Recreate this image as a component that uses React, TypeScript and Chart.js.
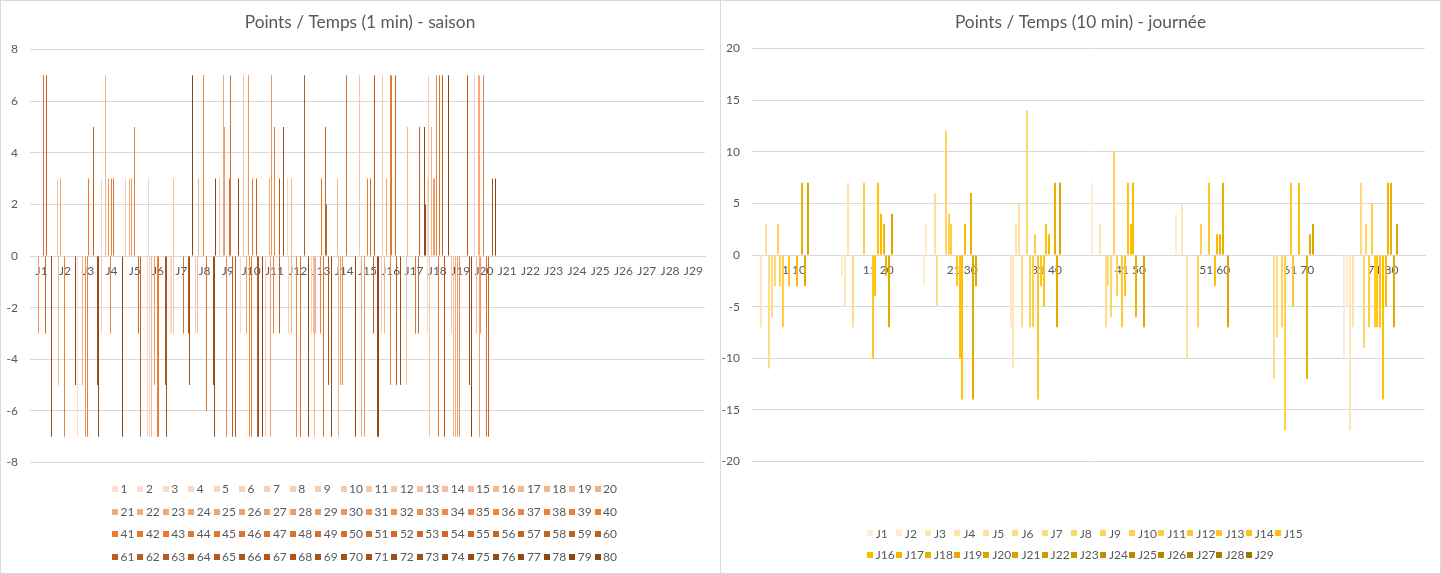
import React, { useEffect, useRef } from 'react';
import { Chart, registerables } from 'chart.js';

Chart.register(...registerables);

const FONT = 'Lato, "Noto Sans", sans-serif';
const TEXT = '#595959';
const GRID = '#D9D9D9';

// ---------- Left chart: Points / Temps (1 min) - saison ----------
const saisonJours = ['J1','J2','J3','J4','J5','J6','J7','J8','J9','J10','J11','J12','J13','J14','J15','J16','J17','J18','J19','J20','J21','J22','J23','J24','J25','J26','J27','J28','J29'];
const saisonMinutes = ['1','2','3','4','5','6','7','8','9','10','11','12','13','14','15','16','17','18','19','20','21','22','23','24','25','26','27','28','29','30','31','32','33','34','35','36','37','38','39','40','41','42','43','44','45','46','47','48','49','50','51','52','53','54','55','56','57','58','59','60','61','62','63','64','65','66','67','68','69','70','71','72','73','74','75','76','77','78','79','80'];

// [minute, points] for each day (minutes without points are empty)
const saisonJ1: [number, number][] = [[29,-3],[47,7],[54,-3],[57,7],[75,-7],[76,-3]];
const saisonJ2: [number, number][] = [[14,3],[18,-5],[25,3],[39,-7],[77,-5]];
const saisonJ3: [number, number][] = [[3,-7],[20,-5],[31,-7],[38,-7],[40,3],[59,5],[72,-5],[73,-5],[76,-7]];
const saisonJ4: [number, number][] = [[5,3],[6,-3],[19,7],[31,3],[37,-3],[40,3],[47,3],[79,-7]];
const saisonJ5: [number, number][] = [[8,3],[22,3],[29,3],[39,5],[53,-3],[60,-7]];
const saisonJ6: [number, number][] = [[4,-7],[7,3],[9,-7],[17,-7],[28,-5],[39,-7],[43,-7],[67,-5],[70,-7]];
const saisonJ7: [number, number][] = [[2,-3],[5,-3],[12,-3],[13,3],[48,-3],[65,-3],[70,-5],[79,7]];
const saisonJ8: [number, number][] = [[9,-3],[15,-3],[19,3],[36,7],[37,7],[47,-6],[72,-5],[74,-7],[78,3]];
const saisonJ9: [number, number][] = [[10,3],[25,7],[28,5],[35,-7],[48,3],[49,7],[58,-7],[67,-7],[77,3]];
const saisonJ10: [number, number][] = [[3,-3],[13,7],[25,-3],[30,7],[34,-7],[41,-7],[45,3],[59,3],[62,-3],[64,-7],[68,-7],[80,-7]];
const saisonJ11: [number, number][] = [[10,-7],[23,3],[26,-7],[30,7],[39,-3],[40,5],[57,-3],[60,3],[72,5]];
const saisonJ12: [number, number][] = [[6,3],[8,-3],[18,3],[19,-3],[36,-7],[38,-7],[50,-7],[64,7],[78,-7]];
const saisonJ13: [number, number][] = [[7,-3],[14,-3],[17,-7],[21,-3],[39,-3],[42,3],[49,-7],[56,5],[59,2],[66,-5],[77,-7]];
const saisonJ14: [number, number][] = [[16,3],[20,-7],[21,-5],[28,-5],[35,-5],[48,7],[79,-7]];
const saisonJ15: [number, number][] = [[12,7],[21,-7],[29,-7],[40,3],[50,3],[60,-3],[64,7],[75,-7],[78,-7]];
const saisonJ16: [number, number][] = [[7,-3],[11,7],[18,-3],[25,3],[39,-5],[40,7],[44,7],[56,7],[60,-5],[74,-5]];
const saisonJ17: [number, number][] = [[13,-5],[17,5],[18,3],[45,-3],[46,-3],[55,-3],[59,5],[76,5],[79,2]];
const saisonJ18: [number, number][] = [[5,3],[6,-3],[9,7],[12,-7],[19,5],[26,3],[29,3],[37,7],[44,-7],[47,7],[58,7],[65,-7],[67,-5],[80,7]];
const saisonJ19: [number, number][] = [[10,-3],[15,-7],[22,-7],[28,-7],[35,-7],[64,7],[70,-5],[78,-7]];
const saisonJ20: [number, number][] = [[7,7],[14,-3],[20,7],[24,7],[26,-7],[30,-3],[40,7],[49,-7],[56,-7],[70,3],[80,3]];
const saisonVide: [number, number][] = [];

const saisonParJour = [saisonJ1, saisonJ2, saisonJ3, saisonJ4, saisonJ5, saisonJ6, saisonJ7, saisonJ8, saisonJ9, saisonJ10,
  saisonJ11, saisonJ12, saisonJ13, saisonJ14, saisonJ15, saisonJ16, saisonJ17, saisonJ18, saisonJ19, saisonJ20,
  saisonVide, saisonVide, saisonVide, saisonVide, saisonVide, saisonVide, saisonVide, saisonVide, saisonVide];

// ---------- Right chart: Points / Temps (10 min) - journée ----------
const journeeTranches = ['1 10','11 20','21 30','31 40','41 50','51 60','61 70','71 80'];
const journeeJours = ['J1','J2','J3','J4','J5','J6','J7','J8','J9','J10','J11','J12','J13','J14','J15','J16','J17','J18','J19','J20','J21','J22','J23','J24','J25','J26','J27','J28','J29'];

const journeeJ1 = [0, 0, -3, 0, 7, 4, 0, -10];
const journeeJ2 = [0, -2, 3, -7, 0, 0, 0, -5];
const journeeJ3 = [-7, -5, 0, -11, 0, 5, 0, -17];
const journeeJ4 = [0, 7, 0, 3, 3, 0, 0, -7];
const journeeJ5 = [3, 0, 6, 5, 0, -10, 0, 0];
const journeeJ6 = [-11, -7, -5, -7, -7, 0, -12, 0];
const journeeJ7 = [-6, 0, 0, 0, -3, 0, -8, 7];
const journeeJ8 = [-3, 0, 0, 14, -6, 0, 0, -9];
const journeeJ9 = [3, 0, 12, -7, 10, -7, -7, 3];
const journeeJ10 = [-3, 7, 4, -7, -4, 3, -17, -7];
const journeeJ11 = [-7, 0, 3, 2, 0, 0, 0, 5];
const journeeJ12 = [0, 0, 0, -14, -7, 0, 7, -7];
const journeeJ13 = [-3, -10, -3, -3, -4, 7, -5, -7];
const journeeJ14 = [0, -4, -10, -5, 7, 0, 0, -7];
const journeeJ15 = [0, 7, -14, 3, 3, -3, 7, -14];
const journeeJ16 = [-3, 4, 3, 2, 7, 2, 0, -5];
const journeeJ17 = [0, 3, 0, 0, -6, 2, 0, 7];
const journeeJ18 = [7, -2, 6, 7, 0, 7, -12, 7];
const journeeJ19 = [-3, -7, -14, -7, 0, 0, 2, -7];
const journeeJ20 = [7, 4, -3, 7, -7, -7, 3, 3];
const journeeVide: number[] = [];

const journeeParJour = [journeeJ1, journeeJ2, journeeJ3, journeeJ4, journeeJ5, journeeJ6, journeeJ7, journeeJ8, journeeJ9, journeeJ10,
  journeeJ11, journeeJ12, journeeJ13, journeeJ14, journeeJ15, journeeJ16, journeeJ17, journeeJ18, journeeJ19, journeeJ20,
  journeeVide, journeeVide, journeeVide, journeeVide, journeeVide, journeeVide, journeeVide, journeeVide, journeeVide];

// ---------- styling helpers ----------
function mix(a: number[], b: number[], t: number) {
  return 'rgb(' + a.map((v, i) => Math.round(v + (b[i] - v) * t)).join(',') + ')';
}
function saisonColor(i: number) {
  if (i < 40) return mix([250, 224, 212], [237, 125, 49], i / 39);
  return mix([237, 125, 49], [140, 68, 20], (i - 39) / 40);
}
function journeeColor(i: number) {
  if (i < 14) return mix([255, 236, 214], [255, 192, 0], i / 14);
  return mix([255, 192, 0], [158, 118, 0], (i - 14) / 14);
}

const barSnap = {
  id: 'barSnap',
  afterDatasetsUpdate(chart: any) {
    chart.getSortedVisibleDatasetMetas().forEach((meta: any) => {
      meta.data.forEach((el: any) => {
        const w = Math.max(1, Math.floor(el.width));
        const left = Math.round(el.x - w / 2);
        el.x = left + w / 2;
        el.width = w;
      });
    });
  },
};

function gridLegend(cfg: { cols: number; pitch: number; x0: number; y0: number; rowH: number; box: number; textDx: number }) {
  return {
    id: 'gridLegend',
    afterDraw(chart: any) {
      const ctx = chart.ctx;
      ctx.save();
      ctx.font = '12px ' + FONT;
      ctx.textBaseline = 'middle';
      ctx.textAlign = 'left';
      chart.data.datasets.forEach((ds: any, i: number) => {
        const col = i % cfg.cols;
        const row = Math.floor(i / cfg.cols);
        const x = cfg.x0 + col * cfg.pitch;
        const y = cfg.y0 + row * cfg.rowH;
        ctx.fillStyle = ds.backgroundColor;
        ctx.fillRect(Math.round(x), Math.round(y - cfg.box / 2), cfg.box, cfg.box);
        ctx.fillStyle = TEXT;
        ctx.fillText(ds.label, x + cfg.textDx, y + 0.5);
      });
      ctx.restore();
    },
  };
}

function baseOptions(title: string, yMin: number, yMax: number, step: number, top: number, bottom: number, height: number, right: number, yWidth: number) {
  const titleSize = 17.3;
  const lh = titleSize * 1.2;
  const padTop = 22.5 - lh / 2;
  return {
    animation: false,
    responsive: false,
    maintainAspectRatio: false,
    layout: { padding: { left: 0, right: 0, top: 0, bottom: height - bottom } },
    datasets: { bar: { barPercentage: 1 } },
    plugins: {
      legend: { display: false },
      tooltip: { enabled: false },
      title: {
        display: true,
        text: title,
        color: TEXT,
        font: { family: FONT, size: titleSize, weight: 'normal', lineHeight: 1.2 },
        padding: { top: padTop, bottom: top - padTop - lh },
      },
    },
    scales: {
      x: {
        position: { y: 0 },
        z: 1,
        grid: { display: false },
        border: { display: true, color: GRID },
        ticks: { color: TEXT, font: { family: FONT, size: 12 }, autoSkip: false, maxRotation: 0, minRotation: 0, padding: 0 },
      },
      y: {
        min: yMin,
        max: yMax,
        ticks: { stepSize: step, color: TEXT, font: { family: FONT, size: 12 }, padding: 12 },
        grid: { color: GRID, drawTicks: false },
        border: { display: false },
        afterFit: (s: any) => { s.width = yWidth; },
      },
      // empty right-hand margin axis, keeps the plot area off the right edge
      marge: {
        type: 'linear',
        position: 'right',
        min: 0,
        max: 1,
        ticks: { display: false },
        grid: { display: false, drawTicks: false },
        border: { display: false },
        afterFit: (s: any) => { s.width = right; },
      },
    },
  };
}

export default function App() {
  const leftRef = useRef<HTMLCanvasElement>(null);
  const rightRef = useRef<HTMLCanvasElement>(null);

  useEffect(() => {
    const saisonDatasets = saisonMinutes.map((label, i) => ({
      label,
      data: saisonParJour.map((day) => {
        const hit = day.find((p) => p[0] === i + 1);
        return hit ? hit[1] : null;
      }),
      backgroundColor: saisonColor(i),
      categoryPercentage: 80 / 81.5,
      barPercentage: 1,
    }));

    const journeeDatasets = journeeJours.map((label, i) => ({
      label,
      data: journeeTranches.map((_, k) => {
        const v = journeeParJour[i][k];
        return v ? v : null;
      }),
      backgroundColor: journeeColor(i),
      categoryPercentage: 29 / 30.5,
      barPercentage: 1,
    }));

    const left = new Chart(leftRef.current as HTMLCanvasElement, {
      type: 'bar',
      data: { labels: saisonJours, datasets: saisonDatasets as any },
      options: baseOptions('Points / Temps (1 min) - saison', -8, 8, 2, 49.5, 462.5, 574, 15, 30) as any,
      plugins: [barSnap, gridLegend({ cols: 20, pitch: 25.4, x0: 112, y0: 489, rowH: 22.5, box: 6, textDx: 8.5 })],
    });

    const right = new Chart(rightRef.current as HTMLCanvasElement, {
      type: 'bar',
      data: { labels: journeeTranches, datasets: journeeDatasets as any },
      options: baseOptions('Points / Temps (10 min) - journée', -20, 20, 5, 48.5, 461.5, 574, 16, 32) as any,
      plugins: [barSnap, gridLegend({ cols: 15, pitch: 29.15, x0: 146.7, y0: 533.3, rowH: 21.7, box: 6, textDx: 9 })],
    });

    return () => {
      left.destroy();
      right.destroy();
    };
  }, []);

  return (
    <div style={{ position: 'absolute', left: 0, top: 0, width: 1441, height: 574, background: '#fff', overflow: 'hidden' }}>
      <canvas ref={leftRef} width={720} height={574} style={{ position: 'absolute', left: 0, top: 0 }} />
      <canvas ref={rightRef} width={721} height={574} style={{ position: 'absolute', left: 720, top: 0 }} />
      <div style={{ position: 'absolute', left: 0, top: 0, width: 721, height: 574, boxSizing: 'border-box', border: '1px solid ' + GRID, pointerEvents: 'none' }} />
      <div style={{ position: 'absolute', left: 720, top: 0, width: 721, height: 574, boxSizing: 'border-box', border: '1px solid ' + GRID, pointerEvents: 'none' }} />
    </div>
  );
}
